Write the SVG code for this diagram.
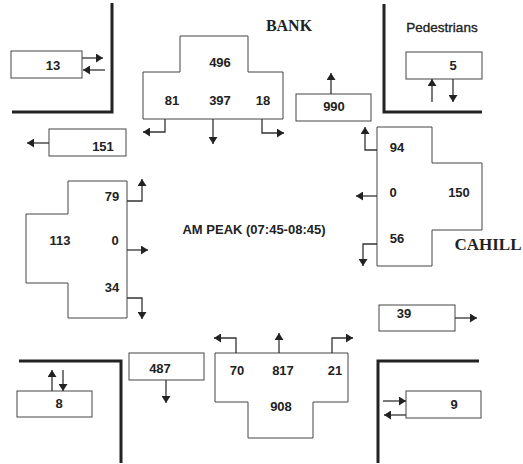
<svg xmlns="http://www.w3.org/2000/svg" width="523" height="464" viewBox="0 0 523 464">
<defs>
<marker id="ah" viewBox="0 0 7 9" refX="7" refY="4.5" markerWidth="7" markerHeight="9" markerUnits="userSpaceOnUse" orient="auto">
<path d="M0,0 L7,4.5 L0,9 z" fill="#222"/>
</marker>
<style>
.box{fill:#fff;stroke:#444;stroke-width:1}
.wall{fill:none;stroke:#222;stroke-width:3}
.arr{fill:none;stroke:#333;stroke-width:1.3;marker-end:url(#ah)}
.num{font-family:"Liberation Sans",Arial,sans-serif;font-weight:bold;font-size:13px;fill:#222;text-anchor:middle}
.ped{font-family:"Liberation Sans",Arial,sans-serif;font-weight:normal;font-size:13.5px;fill:#222;stroke:#222;stroke-width:0.35;text-anchor:middle}
.road{font-family:"Liberation Serif","Times New Roman",serif;font-weight:bold;fill:#222;text-anchor:middle}
</style>
</defs>
<rect width="523" height="464" fill="#fff"/>
<g id="walls">
<path class="wall" d="M112,3 V112 H12"/>
<path class="wall" d="M384,4 V112 H482"/>
<path class="wall" d="M19,361 H121 V463"/>
<path class="wall" d="M479,361 H378 V463"/>
</g>
<g id="labels">
<text class="road" x="289" y="31" font-size="16">BANK</text>
<text class="road" x="488" y="250" font-size="17">CAHILL</text>
<text class="ped" x="442" y="32">Pedestrians</text>
<text class="num" x="254" y="234">AM PEAK (07:45-08:45)</text>
</g>
<g id="ped-nw"><rect class="box" x="11" y="51" width="71" height="27"/><text class="num" x="53" y="70">13</text></g>
<g id="ped-ne"><rect class="box" x="406" y="52" width="76" height="27"/><text class="num" x="453" y="70">5</text></g>
<g id="ped-sw"><rect class="box" x="17" y="391" width="75" height="26"/><text class="num" x="59" y="408">8</text></g>
<g id="ped-se"><rect class="box" x="406" y="391" width="75" height="27"/><text class="num" x="454" y="409">9</text></g>
<g id="exit-w"><rect class="box" x="49" y="129" width="77" height="27"/><text class="num" x="103" y="151">151</text></g>
<g id="exit-n"><rect class="box" x="296" y="94" width="75" height="27"/><text class="num" x="334" y="111">990</text></g>
<g id="exit-e"><rect class="box" x="379" y="305" width="76" height="26"/><text class="num" x="404" y="318">39</text></g>
<g id="exit-s"><rect class="box" x="129" y="353" width="75" height="27"/><text class="num" x="160" y="373">487</text></g>
<g id="bank">
<polygon class="box" points="180,36 248,36 248,72 283,72 283,119 143,119 143,72 180,72"/>
<text class="num" x="220" y="67">496</text>
<text class="num" x="172" y="105">81</text>
<text class="num" x="220" y="105">397</text>
<text class="num" x="263" y="105">18</text>
</g>
<g id="cahill">
<polygon class="box" points="377,127 432,127 432,163 482,163 482,230 432,230 432,266 377,266"/>
<text class="num" x="397" y="152">94</text>
<text class="num" x="393" y="197">0</text>
<text class="num" x="459" y="197">150</text>
<text class="num" x="397" y="243">56</text>
</g>
<g id="west">
<polygon class="box" points="68,181 127,181 127,318 68,318 68,283 26,283 26,214 68,214"/>
<text class="num" x="112" y="201">79</text>
<text class="num" x="60" y="245">113</text>
<text class="num" x="115" y="245">0</text>
<text class="num" x="112" y="292">34</text>
</g>
<g id="south">
<polygon class="box" points="215,353 348,353 348,402 313,402 313,438 248,438 248,402 215,402"/>
<text class="num" x="237" y="375">70</text>
<text class="num" x="283" y="375">817</text>
<text class="num" x="335" y="375">21</text>
<text class="num" x="281" y="411">908</text>
</g>
<g id="connectors">
<path class="arr" d="M82,58 H103"/>
<path class="arr" d="M105,70 H83"/>
<path class="arr" d="M165,119 V132 H143"/>
<path class="arr" d="M213,119 V144"/>
<path class="arr" d="M262,119 V133 H284"/>
<path class="arr" d="M49,143 H27"/>
<path class="arr" d="M331,94 V73"/>
<path class="arr" d="M432,102 V79"/>
<path class="arr" d="M453,79 V102"/>
<path class="arr" d="M377,150 H365 V127"/>
<path class="arr" d="M377,196 H356"/>
<path class="arr" d="M377,244 H363 V266"/>
<path class="arr" d="M127,201 H142 V179"/>
<path class="arr" d="M127,250 H148"/>
<path class="arr" d="M127,298 H142 V319"/>
<path class="arr" d="M166,380 V403"/>
<path class="arr" d="M52,391 V370"/>
<path class="arr" d="M63,370 V391"/>
<path class="arr" d="M236,353 V338 H214"/>
<path class="arr" d="M279,353 V333"/>
<path class="arr" d="M332,353 V338 H353"/>
<path class="arr" d="M455,318 H477"/>
<path class="arr" d="M383,401 H406"/>
<path class="arr" d="M406,415 H384"/>
</g>
</svg>
